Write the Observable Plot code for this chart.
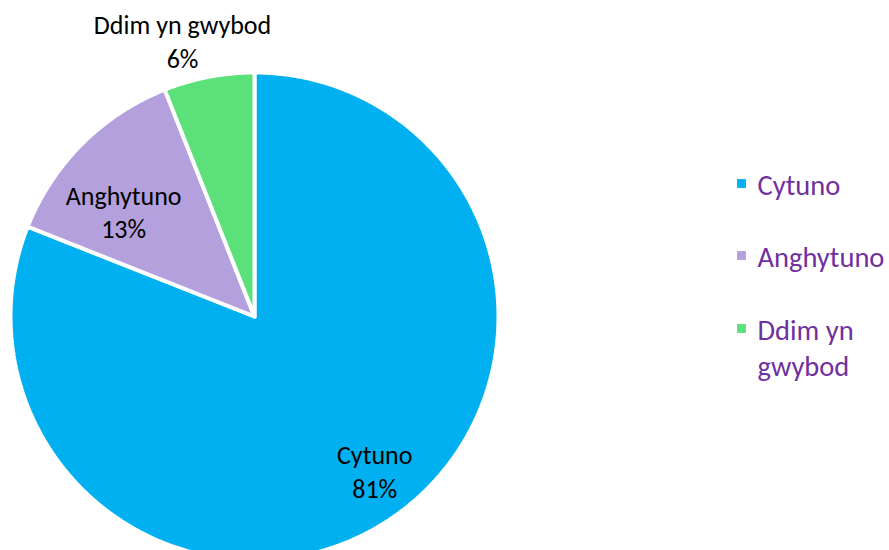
<!DOCTYPE html>
<html>
<head>
<meta charset="utf-8">
<script src="https://cdn.jsdelivr.net/npm/d3@7"></script>
<script src="https://cdn.jsdelivr.net/npm/@observablehq/plot@0.6"></script>
<style>
  html, body { margin: 0; padding: 0; background: #fff; }
  svg { display: block; }
</style>
</head>
<body>
<div id="chart"></div>
<script>
const categories = ["Cytuno", "Anghytuno", "Ddim yn gwybod"];
const values = [81, 13, 6];
const pctLabels = ["81%", "13%", "6%"];
const legendLabels = ["Cytuno", "Anghytuno", "Ddim yn\ngwybod"];
const colors = ["#00B0F0", "#B4A0DC", "#5CE07A"];

const W = 889, H = 550;
const cx = 254, cy = 316, R = 244;
const font = "Carlito, Calibri, Lato, sans-serif";

const pie = d3.pie().sort(null).value(d => d.value)(
  categories.map((c, i) => ({category: c, value: values[i], pct: pctLabels[i], color: colors[i]}))
);

// polygon points for each slice (angle 0 = 12 o'clock, clockwise)
const pts = [];
pie.forEach(s => {
  const n = Math.max(4, Math.ceil((s.endAngle - s.startAngle) / 0.01));
  pts.push({category: s.data.category, x: cx, y: cy});
  for (let k = 0; k <= n; k++) {
    const a = s.startAngle + (s.endAngle - s.startAngle) * k / n;
    pts.push({category: s.data.category, x: cx + R * Math.sin(a), y: cy - R * Math.cos(a)});
  }
  pts.push({category: s.data.category, x: cx, y: cy});
});

// label placement: radius ratio and small angular offset per slice
const labelR = [0.80, 0.69, 1.17];
const labelDa = [-3.8, -6, -3.8].map(d => d * Math.PI / 180);
const labels = pie.map((s, i) => {
  const a = (s.startAngle + s.endAngle) / 2 + labelDa[i];
  const r = R * labelR[i];
  return {text: s.data.category + "\n" + s.data.pct, x: cx + r * Math.sin(a), y: cy - r * Math.cos(a)};
});

const legendFirstY = [183, 255, 328];
const legendLineStep = 36;
const legend = categories.map((c, i) => {
  const lines = legendLabels[i].split("\n").length;
  return {category: c, label: legendLabels[i], x: 741, y: legendFirstY[i], yText: legendFirstY[i] + (lines - 1) * legendLineStep / 2};
});

const chart = Plot.plot({
  width: W, height: H,
  margin: 0,
  x: {domain: [0, W], range: [0, W], axis: null},
  y: {domain: [0, H], range: [0, H], axis: null},
  color: {domain: categories, range: colors},
  style: {fontFamily: font},
  marks: [
    Plot.line(pts, {x: "x", y: "y", z: "category", fill: "category", stroke: "white", strokeWidth: 4, strokeLinejoin: "miter", curve: "linear"}),
    Plot.text(labels, {x: "x", y: "y", text: "text", fontSize: 26, lineHeight: 1.29, fill: "black", fontFamily: font}),
    Plot.dot(legend, {x: "x", y: "y", symbol: "square", r: 5, fill: "category", stroke: null}),
    Plot.text(legend, {x: d => d.x + 16, y: "yText", text: "label", textAnchor: "start", fontSize: 28.5, lineHeight: legendLineStep / 28.5, fill: "#7030A0", fontFamily: font})
  ]
});
document.getElementById("chart").appendChild(chart);
</script>
</body>
</html>
